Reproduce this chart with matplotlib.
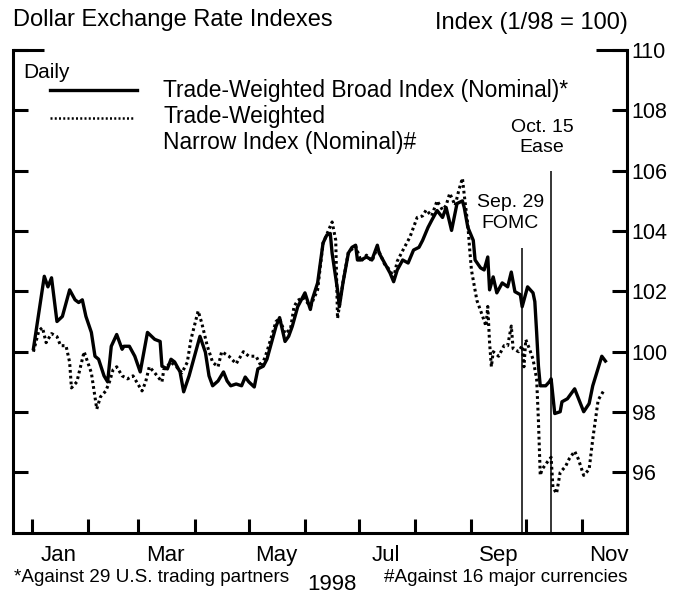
import matplotlib
matplotlib.use("Agg")
import matplotlib.pyplot as plt
import matplotlib.dates as mdates
import numpy as np

plt.rcParams["font.family"] = ["Liberation Sans", "DejaVu Sans"]

# day of year (1998) and index level
broad_day = [2, 6, 8, 10, 12, 15, 18, 22, 25, 27, 29, 31, 34, 36, 38, 41, 43, 45, 48, 51,
             52, 55, 58, 61, 63, 65, 69, 72, 73, 76, 78, 80, 83, 85, 88, 91, 94, 97, 99, 101,
             104, 107, 109, 111, 114, 117, 119, 121, 124, 126, 129, 131, 134, 136, 138, 141, 143, 145, 148, 150,
             152, 155, 156, 159, 162, 164, 166, 167, 170, 171, 173, 176, 178, 180, 181, 183, 186, 189, 192, 193,
             196, 199, 201, 203, 206, 209, 212, 215, 217, 220, 222, 225, 228, 230, 233, 236, 239, 240, 242, 245,
             246, 249, 251, 253, 254, 256, 258, 261, 264, 266, 268, 271, 272, 275, 278, 279, 280, 281, 282, 285,
             287, 288, 290, 293, 294, 297, 301, 306, 309, 311, 316, 318]
broad_val = [100.1, 101.7, 102.5, 102.15, 102.45, 101.0, 101.17, 102.05, 101.72, 101.63, 101.72, 101.17, 100.64, 99.85, 99.75, 99.2, 99.0, 100.18, 100.57, 100.08,
             100.18, 100.18, 99.85, 99.33, 99.98, 100.64, 100.41, 100.34, 99.52, 99.43, 99.75, 99.66, 99.33, 98.67, 99.2, 99.85, 100.51, 99.98, 99.2, 98.87,
             99.03, 99.33, 99.03, 98.87, 98.93, 98.87, 99.16, 99.0, 98.83, 99.43, 99.52, 99.75, 100.41, 100.84, 101.13, 100.34, 100.51, 100.84, 101.49, 101.72,
             101.95, 101.4, 101.72, 102.28, 103.6, 103.86, 103.92, 103.27, 102.05, 101.49, 102.28, 103.27, 103.46, 103.53, 103.04, 103.04, 103.14, 103.04, 103.53, 103.27,
             102.94, 102.61, 102.32, 102.71, 103.04, 102.94, 103.37, 103.46, 103.69, 104.12, 104.35, 104.68, 104.45, 104.78, 104.02, 104.91, 105.0, 104.78, 104.12, 103.69,
             103.04, 102.78, 102.71, 103.14, 102.05, 102.48, 101.95, 102.28, 102.15, 102.64, 101.99, 101.89, 101.49, 102.15, 101.95, 101.66, 100.64, 99.52, 98.87, 98.87,
             99.0, 99.1, 97.95, 98.01, 98.34, 98.44, 98.77, 98.01, 98.28, 98.87, 99.85, 99.69]

narrow_day = [2, 5, 7, 9, 12, 15, 17, 20, 22, 23, 26, 29, 30, 32, 34, 36, 37, 39, 42, 44,
              46, 48, 51, 54, 57, 59, 62, 64, 66, 69, 73, 74, 78, 81, 84, 87, 89, 93, 95, 98,
              101, 104, 106, 110, 114, 118, 121, 125, 128, 131, 134, 136, 138, 141, 144, 146, 148, 151, 155, 159,
              162, 167, 169, 170, 173, 176, 180, 183, 186, 189, 192, 196, 199, 201, 203, 206, 210, 214, 217, 219,
              222, 225, 228, 230, 232, 235, 237, 239, 240, 242, 243, 244, 247, 250, 252, 253, 254, 255, 256, 259,
              262, 264, 266, 267, 270, 272, 273, 274, 276, 278, 280, 281, 282, 283, 286, 288, 289, 291, 293, 296,
              298, 301, 303, 306, 309, 311, 314, 317]
narrow_val = [100.0, 100.7, 100.8, 100.3, 100.6, 100.5, 100.2, 100.2, 99.65, 98.8, 99.0, 99.75, 100.0, 99.65, 99.3, 98.5, 98.1, 98.5, 98.7, 99.0,
              99.4, 99.5, 99.2, 99.1, 99.2, 99.0, 98.7, 99.0, 99.5, 99.3, 99.0, 99.4, 99.65, 99.5, 99.3, 99.65, 100.4, 101.35, 100.95, 100.2,
              99.65, 99.5, 100.0, 99.85, 99.6, 100.0, 99.85, 99.85, 99.5, 100.0, 100.6, 101.0, 101.1, 100.6, 100.75, 101.5, 101.7, 101.8, 101.5, 102.05,
              103.6, 104.3, 103.7, 101.1, 102.3, 103.3, 103.5, 103.0, 103.2, 103.0, 103.45, 102.9, 102.7, 102.45, 103.0, 103.35, 103.8, 104.45, 104.5, 104.7,
              104.5, 105.0, 104.7, 104.85, 105.25, 104.85, 105.35, 105.75, 105.2, 104.2, 103.4, 102.7, 101.7, 101.2, 100.85, 101.5, 100.3, 99.5, 100.0, 99.85,
              100.2, 100.2, 100.85, 100.1, 100.0, 100.2, 99.5, 100.4, 100.1, 99.75, 99.1, 97.7, 95.9, 96.1, 96.35, 96.5, 95.5, 95.3, 96.0, 96.2,
              96.45, 96.7, 96.45, 95.9, 96.1, 97.1, 98.4, 98.7]

event_dates = ["1998-09-29", "1998-10-15"]
event_tops = [103.45, 106.0]
event_labels = ["Sep. 29\nFOMC", "Oct. 15\nEase"]
event_label_y = [104.6, 107.1]

month_starts = ["1998-%02d-01" % m for m in range(1, 12)]
month_labels = ["Jan", "Mar", "May", "Jul", "Sep", "Nov"]
month_label_dates = ["1998-01-16", "1998-03-16", "1998-05-16", "1998-07-16", "1998-09-16", "1998-11-16"]
y_ticks = [96, 98, 100, 102, 104, 106, 108, 110]

jan1 = np.datetime64("1998-01-01")


def to_dates(days):
    return jan1 + np.array(days, dtype="timedelta64[D]") - np.timedelta64(1, "D")


fig = plt.figure(figsize=(6.94, 5.97), dpi=100)
ax = fig.add_axes([0.0187, 0.1077, 0.8847, 0.8085])

ax.plot(to_dates(broad_day), broad_val, color="black", lw=2.4, solid_joinstyle="round")
ax.plot(to_dates(narrow_day), narrow_val, color="black", lw=2.2, linestyle=(0, (0.9, 1.0)))

ev = np.array(event_dates, dtype="datetime64[D]")
ax.vlines(ev, 94, event_tops, color="black", lw=1.1)
offsets = [-8.5, -6.5]
for d, yl, lab, off in zip(ev, event_label_y, event_labels, offsets):
    ax.annotate(lab, xy=(d, yl), xytext=(off, 0), textcoords="offset points",
                ha="center", va="center", fontsize=14, linespacing=1.25)

base = mdates.date2num(jan1)
ax.set_xlim(base - 10.3, base + 328.9)
ax.set_ylim(94, 110)

ax.set_xticks(np.array(month_starts, dtype="datetime64[D]"))
ax.set_xticklabels([])
ax.set_xticks(np.array(month_label_dates, dtype="datetime64[D]"), labels=month_labels, minor=True)
ax.tick_params(axis="x", which="major", direction="in", length=10, width=2.2, bottom=True, top=False)
ax.tick_params(axis="x", which="minor", length=0, pad=9, labelsize=16)

ax.set_yticks(y_ticks)
ax.tick_params(axis="y", direction="in", length=11, width=2.2, left=True, right=True,
               labelleft=False, labelright=True, labelsize=15.5, pad=3.5)

ax.spines["top"].set_visible(False)
for s in ["left", "right", "bottom"]:
    ax.spines[s].set_linewidth(2.2)

# bracket ends at the top of each side
ax.plot([0, 0.05], [1, 1], transform=ax.transAxes, color="black", lw=2.2, clip_on=False,
        solid_capstyle="butt")
ax.plot([0.95, 1], [1, 1], transform=ax.transAxes, color="black", lw=2.2, clip_on=False,
        solid_capstyle="butt")

# legend drawn by hand
W, H = 694, 597
fig.text(23 / W, 1 - 72 / H, "Daily", fontsize=15, va="center")
fig.add_artist(plt.Line2D([50 / W, 137 / W], [1 - 90 / H, 1 - 90 / H], color="black", lw=2.4))
fig.add_artist(plt.Line2D([50 / W, 135 / W], [1 - 118 / H, 1 - 118 / H], color="black", lw=1.8,
                          linestyle=(0, (0.8, 0.9))))
fig.text(163 / W, 1 - 90 / H, "Trade-Weighted Broad Index (Nominal)*", fontsize=16.4, va="center")
fig.text(163 / W, 1 - 117 / H, "Trade-Weighted", fontsize=16.4, va="center")
fig.text(163 / W, 1 - 143 / H, "Narrow Index (Nominal)#", fontsize=16.4, va="center")

fig.text(13 / W, 1 - 20 / H, "Dollar Exchange Rate Indexes", fontsize=17, va="center")
fig.text(628 / W, 1 - 23 / H, "Index (1/98 = 100)", fontsize=17, va="center", ha="right")

fig.text(14 / W, 1 - 578 / H, "*Against 29 U.S. trading partners", fontsize=13.6, va="center")
fig.text(332 / W, 1 - 584 / H, "1998", fontsize=16, va="center", ha="center")
fig.text(627 / W, 1 - 578 / H, "#Against 16 major currencies", fontsize=13.6, va="center", ha="right")

fig.savefig("out.png", dpi=100)
